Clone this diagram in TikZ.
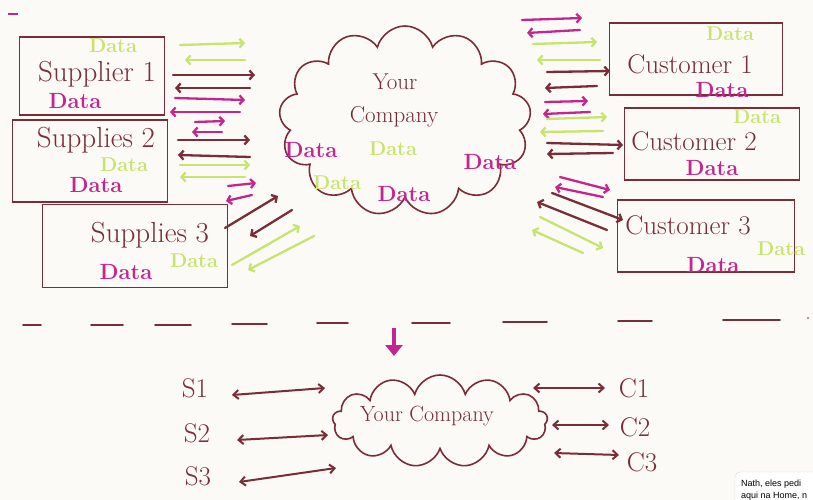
\documentclass[tikz,border=0pt]{standalone}
\usepackage{fontspec}
\usetikzlibrary{shapes.symbols,arrows.meta}
\newfontfamily\chatfont{Liberation Sans}
\definecolor{board}{HTML}{FBFAF6}
\definecolor{ink}{HTML}{7A2C37}
\definecolor{pinkink}{HTML}{C4258E}
\definecolor{limeink}{HTML}{C9E46E}
\tikzset{
  inkline/.style={draw=ink, line width=1.6pt},
  sbox/.style={inkline, rectangle, inner sep=0pt},
  hand/.style={text=ink, inner sep=0pt, font=\fontsize{27}{29}\selectfont},
  pdata/.style={text=pinkink, inner sep=0pt, font=\bfseries\fontsize{22}{23}\selectfont},
  gdata/.style={text=limeink, inner sep=0pt, font=\bfseries\fontsize{20}{21}\selectfont},
  flow/.style={line width=2.3pt, line cap=round, -{Straight Barb[length=4pt,width=9pt]}},
  both/.style={ink, line width=2pt, line cap=round, {Straight Barb[length=5pt,width=9pt]}-{Straight Barb[length=5pt,width=9pt]}},
  puff/.style={cloud, cloud ignores aspect, inkline, inner sep=0pt}
}
\begin{document}
\begin{tikzpicture}[x=1pt,y=-1pt]
\clip (0,0) rectangle (813,500);
\fill[board] (0,0) rectangle (813,500);
\useasboundingbox (0,0) rectangle (813,500);
\draw[pinkink, line width=1.4pt] (8,14) -- (18,14);

% suppliers
\node[sbox, minimum width=145pt, minimum height=78pt] (sup1) at (92,76) {};
\node[sbox, minimum width=155pt, minimum height=82pt] (sup2) at (90,161) {};
\node[sbox, minimum width=185pt, minimum height=83pt] (sup3) at (135,246) {};
\node[hand, font=\fontsize{29}{31}\selectfont] (sup1t) at (97,74) {Supplier 1};
\node[gdata] (sup1g) at (113,46) {Data};
\node[pdata] (sup1p) at (75,101) {Data};
\node[hand, font=\fontsize{29}{31}\selectfont] (sup2t) at (96,140) {Supplies 2};
\node[gdata] (sup2g) at (124,165) {Data};
\node[pdata] (sup2p) at (96,185) {Data};
\node[hand, font=\fontsize{29}{31}\selectfont] (sup3t) at (150,235) {Supplies 3};
\node[gdata] (sup3g) at (194,261) {Data};
\node[pdata] (sup3p) at (126,272) {Data};

% company
\node[puff, cloud puffs=13, minimum width=252pt, minimum height=190pt] (comp) at (405,121) {};
\node[hand, font=\fontsize{23}{25}\selectfont] (compa) at (395,82) {Your};
\node[hand, font=\fontsize{23}{25}\selectfont] (compb) at (394,117) {Company};
\node[pdata] (cd1) at (311,150) {Data};
\node[gdata] (cd2) at (393,149) {Data};
\node[pdata] (cd3) at (490,162) {Data};
\node[gdata] (cd4) at (337,183) {Data};
\node[pdata] (cd5) at (404,194) {Data};

% customers
\node[sbox, minimum width=173pt, minimum height=72pt] (cust1) at (696,59) {};
\node[sbox, minimum width=175pt, minimum height=72pt] (cust2) at (712,144) {};
\node[sbox, minimum width=177pt, minimum height=72pt] (cust3) at (706,236) {};
\node[hand] (cust1t) at (690,64) {Customer 1};
\node[gdata] (cust1g) at (730,34) {Data};
\node[pdata] (cust1p) at (722,90) {Data};
\node[hand] (cust2t) at (694,141) {Customer 2};
\node[gdata] (cust2g) at (757,117) {Data};
\node[pdata] (cust2p) at (712,168) {Data};
\node[hand] (cust3t) at (688,225) {Customer 3};
\node[gdata] (cust3g) at (781,249) {Data};
\node[pdata] (cust3p) at (713,265) {Data};

% arrows left
\foreach \c/\xa/\ya/\xb/\yb in {limeink/180/45/245/43, limeink/245/60/185/60,
  ink/173/75/255/75, ink/250/88/175/88, pinkink/175/98/245/100, pinkink/240/112/170/112,
  pinkink/195/122/225/121, pinkink/222/132/192/132, ink/178/140/250/140, ink/250/157/178/155,
  limeink/180/165/250/165, limeink/245/177/180/177, pinkink/228/186/256/183, pinkink/252/195/226/201,
  ink/225/228/278/196, ink/292/210/250/236, limeink/232/265/300/226, limeink/314/236/248/270}
  \draw[flow, \c] (\xa,\ya) -- (\xb,\yb);

% arrows right
\foreach \c/\xa/\ya/\xb/\yb in {pinkink/522/20/582/18, pinkink/580/30/527/33,
  limeink/533/44/597/42, limeink/600/60/537/60, ink/547/72/610/71, ink/597/86/545/88,
  pinkink/545/102/588/101, pinkink/590/112/543/114, limeink/547/119/607/117, limeink/603/131/540/132,
  ink/547/143/623/145, ink/613/153/547/154, pinkink/560/177/610/190, pinkink/603/197/555/187,
  ink/552/193/623/220, ink/607/230/537/202, limeink/540/217/603/248, limeink/583/253/532/230}
  \draw[flow, \c] (\xa,\ya) -- (\xb,\yb);

% divider
\foreach \xa/\xb/\yy in {23/41/325, 91/123/325, 155/191/325, 232/267/324, 317/348/323,
  412/450/323, 503/547/322, 618/652/321, 723/780/320}
  \draw[ink, line width=1.8pt, line cap=round] (\xa,\yy) -- (\xb,\yy);
\fill[ink] (808,318) circle (0.8);
\draw[pinkink, line width=4pt, -{Triangle[length=11pt,width=17pt]}] (394,328) -- (394,356);

% short version
\node[puff, cloud puffs=13, minimum width=215pt, minimum height=92pt] (yc) at (440,421) {};
\node[hand, font=\fontsize{22}{24}\selectfont] (yct) at (427,416) {Your Company};
\node[hand] (s1) at (195,388) {S1};
\node[hand] (s2) at (197,433) {S2};
\node[hand] (s3) at (198,476) {S3};
\node[hand] (c1) at (634,388) {C1};
\node[hand] (c2) at (635,427) {C2};
\node[hand] (c3) at (642,462) {C3};
\draw[both] ([shift={(37,7)}]s1.center) -- ([shift={(-115,-33)}]yc.center);
\draw[both] ([shift={(40,7)}]s2.center) -- ([shift={(-112,14)}]yc.center);
\draw[both] ([shift={(41,6)}]s3.center) -- ([shift={(-104,47)}]yc.center);
\draw[both] ([shift={(93,-33)}]yc.center) -- ([shift={(-29,0)}]c1.center);
\draw[both] ([shift={(112,4)}]yc.center) -- ([shift={(-26,-2)}]c2.center);
\draw[both] ([shift={(114,32)}]yc.center) -- ([shift={(-23,-7)}]c3.center);

% chat popup
\filldraw[fill=white, draw=black!15, rounded corners=5pt] (735,472) rectangle (840,520);
\node[anchor=west, inner sep=0pt, font=\chatfont\fontsize{9}{10}\selectfont] (chat1) at (741,484) {Nath, eles pedi};
\node[anchor=west, inner sep=0pt, font=\chatfont\fontsize{9}{10}\selectfont] (chat2) at (741,496) {aqui na Home, n};
\end{tikzpicture}
\end{document}
